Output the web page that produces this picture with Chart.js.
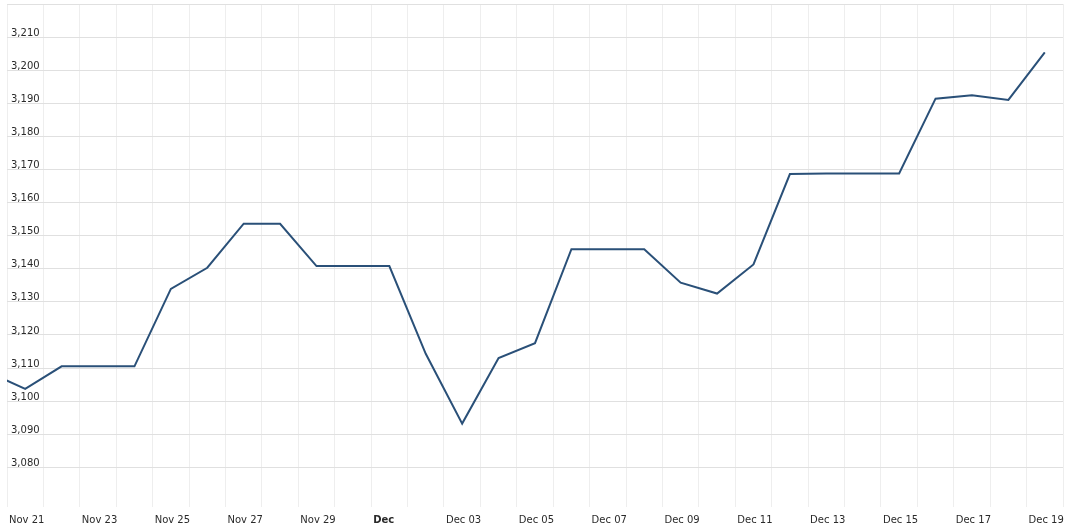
<!DOCTYPE html>
<html lang="en">
<head>
  <meta charset="UTF-8">
  <title>Index</title>
  <script src="https://cdn.jsdelivr.net/npm/chart.js"></script>
  <style>
    html, body { margin: 0; padding: 0; background: #fff; }
    #wrap { width: 1066px; height: 529px; }
  </style>
</head>
<body>
  <div id="wrap">
    <canvas id="indexChart"></canvas>
  </div>

  <script>
    // daily closes, first one (Nov 20) is mostly off the left edge
    const dates = [
      'Nov 20', 'Nov 21', 'Nov 22', 'Nov 23', 'Nov 24', 'Nov 25', 'Nov 26', 'Nov 27', 'Nov 28', 'Nov 29', 'Nov 30',
      'Dec 01', 'Dec 02', 'Dec 03', 'Dec 04', 'Dec 05', 'Dec 06', 'Dec 07', 'Dec 08', 'Dec 09', 'Dec 10',
      'Dec 11', 'Dec 12', 'Dec 13', 'Dec 14', 'Dec 15', 'Dec 16', 'Dec 17', 'Dec 18', 'Dec 19'
    ];
    const closes = [
      3108.7, 3103.7, 3110.5, 3110.5, 3110.5, 3133.9, 3140.3, 3153.6, 3153.6, 3140.8, 3140.8,
      3140.8, 3114.3, 3093.2, 3113.0, 3117.5, 3145.9, 3145.9, 3145.9, 3135.8, 3132.5,
      3141.3, 3168.6, 3168.8, 3168.8, 3168.8, 3191.4, 3192.4, 3191.0, 3205.4
    ];
    // one label every second day, starting Nov 21
    const tickLabels = [
      'Nov 21', 'Nov 23', 'Nov 25', 'Nov 27', 'Nov 29', 'Dec', 'Dec 03', 'Dec 05',
      'Dec 07', 'Dec 09', 'Dec 11', 'Dec 13', 'Dec 15', 'Dec 17', 'Dec 19'
    ];
    const yTicks = [3080, 3090, 3100, 3110, 3120, 3130, 3140, 3150, 3160, 3170, 3180, 3190, 3200, 3210, 3220];

    // x is "days since Nov 21 00:00", each close sits at midday
    const points = closes.map((v, i) => ({ x: i - 0.5, y: v }));

    // kill the label-overflow padding chart.js adds around the plot
    const noPad = (axis) => {
      axis.paddingLeft = 0;
      axis.paddingRight = 0;
      axis.paddingTop = 0;
      axis.paddingBottom = 0;
    };

    const ctx = document.getElementById('indexChart').getContext('2d');
    new Chart(ctx, {
      type: 'line',
      data: {
        datasets: [{
          label: 'Close',
          data: points,
          borderColor: '#2a5078',
          borderWidth: 2,
          pointRadius: 0,
          tension: 0
        }]
      },
      options: {
        responsive: true,
        maintainAspectRatio: false,
        animation: false,
        layout: { padding: { top: 4, left: 7, right: 3, bottom: 3 } },
        plugins: {
          legend: { display: false },
          tooltip: { enabled: false }
        },
        scales: {
          x: {
            type: 'linear',
            min: 0,
            max: 29,
            border: { display: false },
            grid: { color: '#eeeeee', drawTicks: false },
            afterFit: (axis) => { noPad(axis); axis.height = 19; },
            ticks: {
              stepSize: 1,
              autoSkip: false,
              maxRotation: 0,
              align: 'start',
              labelOffset: 2,
              padding: 7,
              color: '#2a2a2a',
              font: (c) => ({
                family: 'DejaVu Sans',
                size: 10,
                weight: (c.tick && tickLabels[c.tick.value / 2] === 'Dec') ? 'bold' : 'normal'
              }),
              callback: (v) => (v % 2 === 0 ? (tickLabels[v / 2] || '') : '')
            }
          },
          y: {
            min: 3068,
            max: 3220,
            border: { display: false },
            grid: { color: '#e0e0e0', drawTicks: false },
            // labels sit inside the plot, so the axis itself takes no room
            afterFit: (axis) => { noPad(axis); axis.width = 0; },
            afterBuildTicks: (axis) => { axis.ticks = yTicks.map(v => ({ value: v })); },
            ticks: {
              mirror: true,
              padding: 4,
              labelOffset: -4,
              color: '#2a2a2a',
              font: { family: 'DejaVu Sans', size: 10 },
              callback: (v) => (v >= 3220 ? '' : v.toLocaleString('en-US'))
            }
          }
        }
      }
    });
  </script>
</body>
</html>
